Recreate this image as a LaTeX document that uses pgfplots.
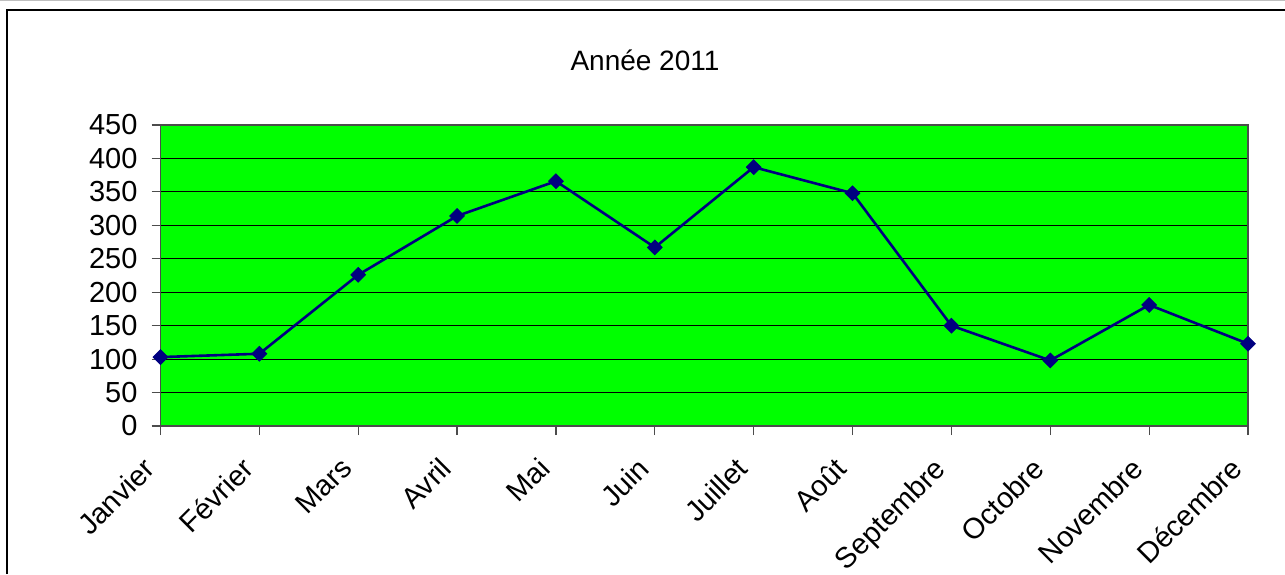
\documentclass[border=0pt]{standalone}
\usepackage{fontspec}
\setmainfont{Liberation Sans}
\usepackage{pgfplots}
\pgfplotsset{compat=1.18}
\definecolor{navyline}{RGB}{0,0,128}
\definecolor{plotgreen}{RGB}{0,255,0}
\begin{document}
\begin{tikzpicture}[x=1pt,y=1pt]
\useasboundingbox (0,0) rectangle (642.5,287);
\draw[black, line width=0.9pt] (3.5,0) -- (3.5,282) -- (642.5,282);
\draw[gray!50, line width=0.6pt] (0,286.7) -- (642.5,286.7);
\node[font=\fontsize{14}{16}\selectfont] at (322.5,257) {Année 2011};
\begin{axis}[
  at={(80.25pt,74pt)}, anchor=south west,
  scale only axis, width=543.75pt, height=150.5pt,
  xmin=0, xmax=11, ymin=0, ymax=450,
  ytick={0,50,...,450}, xtick={0,...,11},
  xticklabels={Janvier,Février,Mars,Avril,Mai,Juin,Juillet,Août,Septembre,Octobre,Novembre,Décembre},
  xticklabel style={font=\fontsize{14.5}{16}\selectfont, anchor=north east, xshift=-9.5pt, yshift=-5.5pt, rotate=45},
  yticklabel style={font=\fontsize{14.5}{16}\selectfont, xshift=-3.5pt},
  /pgf/number format/assume math mode=true,
  axis background/.style={fill=plotgreen},
  ymajorgrids, grid style={black, line width=0.5pt},
  tick align=outside, tick pos=left, major tick length=4.5pt,
  tick style={gray!60!black, line width=0.6pt},
  axis line style={gray!60!black, line width=0.8pt},
  clip=false,
]
\addplot[navyline, line width=1.3pt, mark=square*, mark size=2.6pt, mark options={rotate=45, fill=navyline, draw=navyline, line width=0.4pt}]
  coordinates {(0,103) (1,108) (2,226) (3,314) (4,366) (5,267) (6,387) (7,348) (8,150) (9,98) (10,181) (11,123)};
\end{axis}
\end{tikzpicture}
\end{document}
